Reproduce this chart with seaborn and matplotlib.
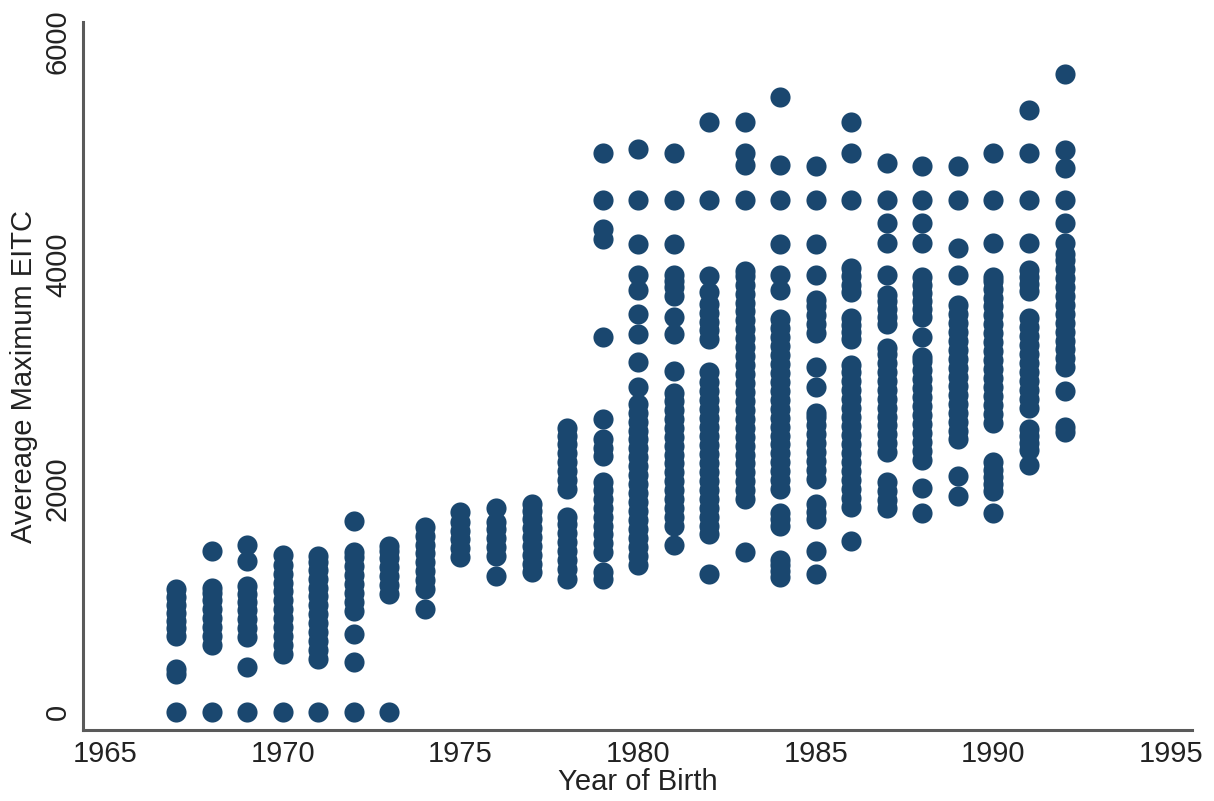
import pandas as pd
import matplotlib
matplotlib.use("Agg")
import matplotlib.pyplot as plt
import seaborn as sns

# Average maximum EITC by year of birth
y1967 = [0, 340, 385, 680, 750, 820, 890, 960, 1030, 1100]
y1968 = [0, 605, 680, 760, 840, 920, 1000, 1070, 1115, 1440]
y1969 = [0, 400, 670, 750, 830, 910, 990, 1060, 1125, 1350, 1500]
y1970 = [0, 520, 600, 680, 760, 840, 920, 1000, 1080, 1160, 1240, 1320, 1410]
y1971 = [0, 475, 555, 635, 715, 795, 875, 955, 1035, 1115, 1195, 1275, 1345, 1395]
y1972 = [0, 445, 700, 905, 985, 1065, 1145, 1225, 1305, 1385, 1430, 1710]
y1973 = [0, 1055, 1135, 1215, 1295, 1375, 1445, 1485]
y1974 = [920, 1100, 1180, 1260, 1340, 1420, 1500, 1580, 1660]
y1975 = [1385, 1465, 1545, 1625, 1705, 1795]
y1976 = [1215, 1400, 1480, 1560, 1640, 1700, 1830]
y1977 = [1250, 1330, 1410, 1490, 1570, 1650, 1730, 1800, 1860]
y1978 = [1190, 1280, 1360, 1440, 1520, 1600, 1680, 1745, 1995, 2075, 2155,
         2235, 2315, 2395, 2475, 2545]
y1979 = [1195, 1250, 1430, 1510, 1590, 1670, 1750, 1830, 1910, 1990, 2055,
         2290, 2360, 2440, 2620, 3360, 4230, 4320, 4585, 5000]
y1980 = [1320, 1400, 1480, 1560, 1640, 1720, 1800, 1880, 1960, 2040, 2120,
         2200, 2280, 2360, 2440, 2520, 2600, 2680, 2760, 2910, 3130, 3380,
         3560, 3780, 3915, 4190, 4585, 5040]
y1981 = [1500, 1665, 1745, 1825, 1905, 1985, 2065, 2145, 2225, 2305, 2385,
         2465, 2545, 2625, 2705, 2785, 2860, 3050, 3380, 3540, 3720, 3800,
         3860, 3915, 4190, 4585, 5005]
y1982 = [1235, 1590, 1670, 1750, 1830, 1910, 1990, 2070, 2150, 2230, 2310,
         2390, 2470, 2550, 2630, 2710, 2790, 2870, 2950, 3040, 3335, 3415,
         3495, 3575, 3655, 3755, 3905, 4585, 5280]
y1983 = [1430, 1905, 1985, 2065, 2145, 2225, 2305, 2385, 2465, 2545, 2625,
         2705, 2785, 2865, 2945, 3025, 3105, 3185, 3265, 3345, 3425, 3505,
         3585, 3665, 3745, 3825, 3905, 3950, 4585, 4900, 5005, 5280]
y1984 = [1205, 1260, 1320, 1365, 1665, 1725, 1785, 1995, 2075, 2155, 2235,
         2315, 2395, 2475, 2555, 2635, 2715, 2795, 2875, 2955, 3035, 3115,
         3195, 3275, 3355, 3435, 3515, 3780, 3915, 4190, 4585, 4900, 5505]
y1985 = [1235, 1440, 1725, 1790, 1860, 2085, 2165, 2245, 2325, 2405, 2485,
         2565, 2645, 2680, 2905, 3085, 3395, 3475, 3555, 3635, 3690, 3915,
         4190, 4585, 4890]
y1986 = [1530, 1840, 1920, 2000, 2080, 2160, 2240, 2320, 2400, 2480, 2560,
         2640, 2720, 2800, 2880, 2960, 3040, 3110, 3335, 3400, 3465, 3530,
         3755, 3820, 3900, 3975, 4585, 5005, 5280]
y1987 = [1830, 1900, 1980, 2055, 2325, 2405, 2485, 2565, 2645, 2725, 2805,
         2885, 2965, 3045, 3125, 3205, 3260, 3470, 3540, 3610, 3680, 3735,
         3915, 4200, 4380, 4585, 4915]
y1988 = [1785, 2010, 2260, 2340, 2420, 2500, 2580, 2660, 2740, 2820, 2900,
         2980, 3060, 3140, 3180, 3360, 3540, 3610, 3680, 3750, 3820, 3895,
         4200, 4380, 4585, 4890]
y1989 = [1930, 2110, 2440, 2520, 2600, 2680, 2760, 2840, 2920, 3000, 3080,
         3160, 3240, 3320, 3400, 3480, 3560, 3645, 3915, 4150, 4585, 4890]
y1990 = [1785, 1975, 2040, 2105, 2170, 2235, 2590, 2670, 2750, 2830, 2910,
         2990, 3070, 3150, 3230, 3310, 3390, 3470, 3550, 3630, 3710, 3790,
         3860, 3895, 4200, 4585, 5005]
y1991 = [2215, 2350, 2410, 2470, 2530, 2725, 2805, 2885, 2965, 3045, 3125,
         3205, 3285, 3365, 3445, 3530, 3765, 3830, 3895, 3960, 4200, 4585,
         5005, 5390]
y1992 = [2510, 2555, 2870, 3085, 3165, 3245, 3325, 3405, 3485, 3565, 3645,
         3725, 3805, 3885, 3965, 4045, 4100, 4200, 4380, 4585, 4870, 5030, 5710]

years = list(range(1967, 1993))
eitc_by_year = [y1967, y1968, y1969, y1970, y1971, y1972, y1973, y1974, y1975,
                y1976, y1977, y1978, y1979, y1980, y1981, y1982, y1983, y1984,
                y1985, y1986, y1987, y1988, y1989, y1990, y1991, y1992]

x_ticks = [1965, 1970, 1975, 1980, 1985, 1990, 1995]
y_ticks = [0, 2000, 4000, 6000]

# long table for seaborn
rows = []
for yr, vals in zip(years, eitc_by_year):
    for v in vals:
        rows.append({"Year of Birth": yr, "EITC": v})
df = pd.DataFrame(rows)

sns.set_theme(style="white")
plt.rcParams["font.family"] = ["Liberation Sans", "DejaVu Sans"]

fig = plt.figure(figsize=(12.14, 8.01), dpi=100)
ax = fig.add_axes([0.0684, 0.0886, 0.9136, 0.8839])

sns.scatterplot(data=df, x="Year of Birth", y="EITC", ax=ax,
                color="#1a476f", s=210, linewidth=0, alpha=1)

ax.set_xlim(1964.38, 1995.59)
ax.set_ylim(-160, 6175)
ax.set_xticks(x_ticks)
ax.set_yticks(y_ticks)
ax.set_xticklabels([str(t) for t in x_ticks], fontsize=21, color="#222222")
ax.set_yticklabels([str(t) for t in y_ticks], fontsize=21, color="#222222",
                   rotation=90, va="center")
ax.tick_params(axis="both", length=0)
ax.tick_params(axis="x", pad=7)
ax.tick_params(axis="y", pad=8)

ax.set_xlabel("Year of Birth", fontsize=21, color="#222222", labelpad=0)
ax.set_ylabel("Avereage Maximum EITC", fontsize=21, color="#222222", labelpad=4)

for side in ["top", "right"]:
    ax.spines[side].set_visible(False)
for side in ["left", "bottom"]:
    ax.spines[side].set_color("#5a5a5a")
    ax.spines[side].set_linewidth(2.2)
ax.grid(False)

plt.savefig("out.png", dpi=100)
